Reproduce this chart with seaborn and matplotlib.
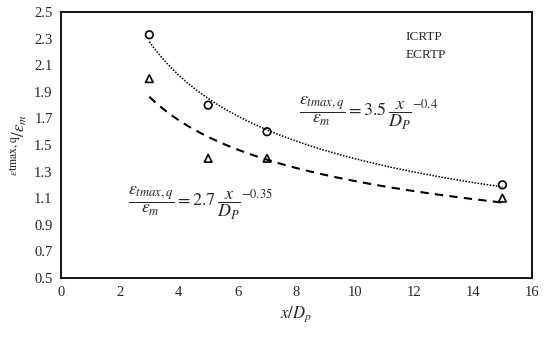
import numpy as np
import pandas as pd
import matplotlib
matplotlib.use('Agg')
import matplotlib.pyplot as plt
import seaborn as sns

# values
x_ratio = [3, 5, 7, 15]
icrtp = [2.33, 1.80, 1.60, 1.20]
ecrtp = [2.00, 1.40, 1.40, 1.10]
series_names = ['ICRTP', 'ECRTP']
x_ticks = [0, 2, 4, 6, 8, 10, 12, 14, 16]
y_ticks = [0.5, 0.7, 0.9, 1.1, 1.3, 1.5, 1.7, 1.9, 2.1, 2.3, 2.5]

sns.set_style('white')
plt.rcParams['font.family'] = ['Liberation Serif', 'DejaVu Serif']
plt.rcParams['mathtext.fontset'] = 'stix'

df = pd.DataFrame({'x': x_ratio * 2,
                   'y': icrtp + ecrtp,
                   'series': [series_names[0]] * 4 + [series_names[1]] * 4})

# power trendlines (like excel): fit log(y) against log(x)
xs = np.linspace(min(x_ratio), max(x_ratio), 200)
fits = []
for vals in [icrtp, ecrtp]:
    b, lna = np.polyfit(np.log(x_ratio), np.log(vals), 1)
    fits.append(np.exp(lna) * xs ** b)

fig = plt.figure(figsize=(5.5, 3.38), dpi=100)
ax = fig.add_axes([0.111, 0.178, 0.856, 0.786])

sns.lineplot(x=xs, y=fits[0], ax=ax, color='black', linestyle=(0, (1, 1)), lw=1.1)
sns.lineplot(x=xs, y=fits[1], ax=ax, color='black', linestyle=(0, (4, 3)), lw=1.5)

sns.scatterplot(data=df, x='x', y='y', style='series', markers={'ICRTP': 'o', 'ECRTP': '^'},
                facecolor='none', edgecolor='black', linewidth=1.2, s=30, ax=ax, legend=False)

ax.set_xlim(0, 16)
ax.set_ylim(0.5, 2.5)
ax.set_xticks(x_ticks)
ax.set_yticks(y_ticks)
ax.set_yticklabels([f'{v:.1f}' for v in y_ticks])
ax.tick_params(labelsize=10.5, length=0, pad=6)
for s in ax.spines.values():
    s.set_visible(True)
    s.set_color('black')
    s.set_linewidth(1.3)

ax.set_xlabel(r'$x/D_p$', fontsize=12, labelpad=4)
ax.set_ylabel(r'${}^{\varepsilon \mathrm{tmax,q}}/{\varepsilon_m}$', fontsize=12, labelpad=4)

ax.text(11.7, 2.31, 'ICRTP', fontsize=9.5, ha='left', va='center')
ax.text(11.7, 2.18, 'ECRTP', fontsize=9.5, ha='left', va='center')

ax.text(10.45, 1.74, r'$\dfrac{\varepsilon_{tmax,q}}{\varepsilon_m} = 3.5\,\dfrac{x}{D_P}^{-0.4}$',
        fontsize=13, ha='center', va='center')
ax.text(4.75, 1.06, r'$\dfrac{\varepsilon_{tmax,q}}{\varepsilon_m} = 2.7\,\dfrac{x}{D_P}^{-0.35}$',
        fontsize=13, ha='center', va='center')

fig.savefig('out.png', dpi=100)
